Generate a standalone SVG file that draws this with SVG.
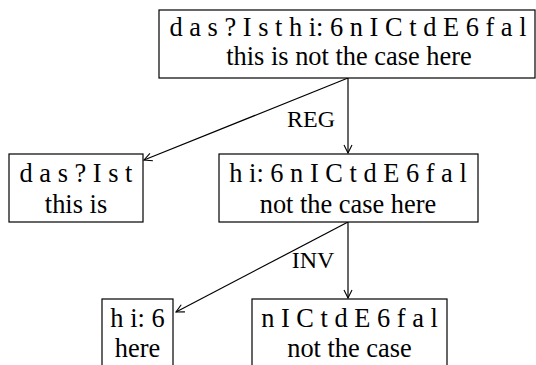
<svg xmlns="http://www.w3.org/2000/svg" width="536" height="365" viewBox="0 0 536 365">
<style>
.box{fill:#fff;stroke:#000;stroke-width:1.2}
.t{font-family:"Liberation Serif","Times New Roman",serif;font-size:26.4px;fill:#000;text-anchor:middle}
.l{font-family:"Liberation Serif","Times New Roman",serif;font-size:24px;fill:#000;text-anchor:middle}
.e{fill:none;stroke:#000;stroke-width:1.2}
</style>
<defs>
<marker id="ah" viewBox="0 0 10 10" refX="9" refY="5" markerWidth="10" markerHeight="10" markerUnits="userSpaceOnUse" orient="auto">
<path d="M1,1 L9,5 L1,9" fill="none" stroke="#000" stroke-width="1.1"/>
</marker>
</defs>
<rect width="536" height="365" fill="#fff"/>
<g id="connectors">
<line class="e" x1="348" y1="78" x2="348" y2="153" marker-end="url(#ah)"/>
<line class="e" x1="348" y1="78" x2="144" y2="160" marker-end="url(#ah)"/>
<line class="e" x1="348" y1="222" x2="348" y2="298" marker-end="url(#ah)"/>
<line class="e" x1="348" y1="222" x2="176" y2="312" marker-end="url(#ah)"/>
<text class="l" x="311" y="127">REG</text>
<text class="l" x="313" y="268">INV</text>
</g>
<g id="n0">
<rect class="box" x="159" y="10" width="376" height="68"/>
<text class="t" x="348" y="36">d a s ? I s t h i: 6 n I C t d E 6 f a l</text>
<text class="t" x="349" y="65">this is not the case here</text>
</g>
<g id="n1">
<rect class="box" x="9" y="154" width="134" height="68"/>
<text class="t" x="76" y="182">d a s ? I s t</text>
<text class="t" x="76" y="213">this is</text>
</g>
<g id="n2">
<rect class="box" x="219" y="154" width="259" height="68"/>
<text class="t" x="348" y="182">h i: 6 n I C t d E 6 f a l</text>
<text class="t" x="348" y="213">not the case here</text>
</g>
<g id="n3">
<rect class="box" x="102" y="299" width="71" height="72"/>
<text class="t" x="137.5" y="327">h i: 6</text>
<text class="t" x="137.5" y="357">here</text>
</g>
<g id="n4">
<rect class="box" x="252" y="299" width="195" height="72"/>
<text class="t" x="349.5" y="327">n I C t d E 6 f a l</text>
<text class="t" x="349.5" y="357">not the case</text>
</g>
</svg>
